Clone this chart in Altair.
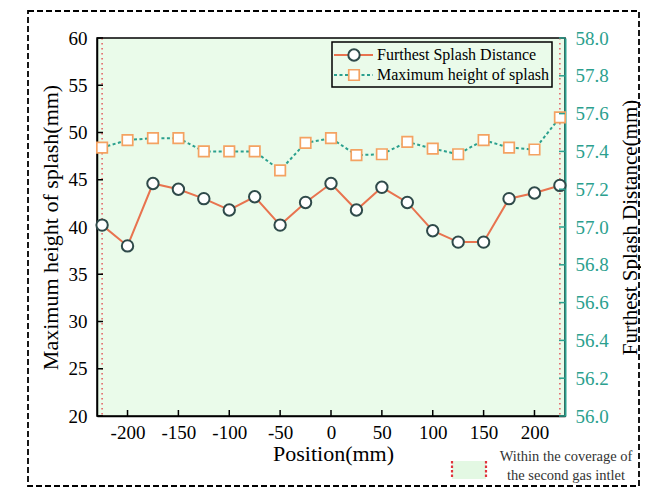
import altair as alt
import pandas as pd

# ---------------- data ----------------
positions = [-225, -200, -175, -150, -125, -100, -75, -50, -25, 0, 25, 50, 75,
             100, 125, 150, 175, 200, 225]
max_height = [48.4, 49.2, 49.4, 49.4, 48.0, 48.0, 48.0, 46.0, 48.9, 49.4, 47.6,
              47.7, 49.0, 48.3, 47.7, 49.2, 48.4, 48.2, 51.6]
furthest = [57.01, 56.90, 57.23, 57.20, 57.15, 57.09, 57.16, 57.01, 57.13, 57.23,
            57.09, 57.21, 57.13, 56.98, 56.92, 56.92, 57.15, 57.18, 57.22]
x_ticks = [-200, -150, -100, -50, 0, 50, 100, 150, 200]
left_ticks = [20, 25, 30, 35, 40, 45, 50, 55, 60]
right_ticks = [56.0, 56.2, 56.4, 56.6, 56.8, 57.0, 57.2, 57.4, 57.6, 57.8, 58.0]
coverage_edges = [-225, 225]
legend_labels = ["Furthest Splash Distance", "Maximum height of splash"]
note_lines = ["Within the coverage of", "the second gas intlet"]

# ---------------- style ----------------
W, H = 468, 378
SERIF = "Liberation Serif"
CORAL = "#E8734F"
SLATE = "#2F4A4A"
TEAL = "#2BA08E"
SAND = "#F4A262"
GREEN = "#EAFBEA"
RED = "#E0343C"

df = pd.DataFrame({"pos": positions, "h": max_height, "d": furthest})
df_x = pd.DataFrame({"pos": x_ticks})
df_l = pd.DataFrame({"h": left_ticks})
df_r = pd.DataFrame({"d": right_ticks})
df_edge = pd.DataFrame({"pos": coverage_edges})
one = pd.DataFrame({"k": [0]})

xs = alt.Scale(domain=[-230, 230], nice=False, zero=False)
ls = alt.Scale(domain=[20, 60], nice=False, zero=False)
rs = alt.Scale(domain=[56, 58], nice=False, zero=False)

x_axis = alt.Axis(values=x_ticks, labelExpr="'' + datum.value", tickSize=0,
                  labelFont=SERIF, labelFontSize=19,
                  labelColor="black", labelPadding=7, labelFlush=False,
                  domainColor="black", domainWidth=1.5, grid=False,
                  title="Position(mm)", titleFont=SERIF, titleFontSize=22,
                  titleFontWeight="normal", titleColor="black", titleX=236,
                  titleY=37, titleBaseline="middle", titleAlign="center")
l_axis = alt.Axis(values=left_ticks, format="d", tickSize=0, labelFont=SERIF,
                  labelFontSize=19, labelColor="black", labelPadding=10,
                  labelFlush=False, domainColor="black", domainWidth=1.5, grid=False,
                  title="Maximum height of splash(mm)", titleFont=SERIF,
                  titleFontSize=22, titleFontWeight="normal", titleColor="black",
                  titleAngle=270, titleX=-47, titleY=H / 2, titleAlign="center",
                  titleBaseline="middle")
r_axis = alt.Axis(values=right_ticks, format=".1f", orient="right", tickSize=0,
                  labelFont=SERIF, labelFontSize=19, labelColor=TEAL,
                  labelPadding=10, labelFlush=False, domainColor=TEAL,
                  domainWidth=2, grid=False,
                  title="Furthest Splash Distance(mm)", titleFont=SERIF,
                  titleFontSize=21, titleFontWeight="normal", titleColor="black",
                  titleAngle=270, titleX=65, titleY=H / 2, titleAlign="center",
                  titleBaseline="middle")

X = alt.X("pos:Q", scale=xs, axis=x_axis)
YL = alt.Y("h:Q", scale=ls, axis=l_axis)
YR = alt.Y("d:Q", scale=rs, axis=r_axis)

# ------------- left (max height) group -------------
edges = alt.Chart(df_edge).mark_rule(color=RED, strokeWidth=1.2, strokeDash=[1.5, 3.5]).encode(
    x=X)
h_line = alt.Chart(df).mark_line(color=TEAL, strokeWidth=2, strokeDash=[3, 2.5]).encode(
    x=X, y=YL)
h_pts = alt.Chart(df).mark_point(shape="square", size=110, filled=True, fill="white",
                                 stroke=SAND, strokeWidth=1.7, opacity=1).encode(
    x=X, y=YL)
x_tk = alt.Chart(df_x).mark_rule(color="black", strokeWidth=1.5).encode(
    x=X, y=alt.value(H), y2=alt.value(H - 6))
l_tk = alt.Chart(df_l).mark_rule(color="black", strokeWidth=1.5).encode(
    y=YL, x=alt.value(0), x2=alt.value(6))

# decorations: legend, note, outer frame
leg_box = alt.Chart(one).mark_rect(fillOpacity=0, stroke="black", strokeWidth=1.5).encode(
    x=alt.value(235), x2=alt.value(455), y=alt.value(4), y2=alt.value(49))
leg_l1 = alt.Chart(one).mark_rule(color=CORAL, strokeWidth=2).encode(
    x=alt.value(237), x2=alt.value(276), y=alt.value(17))
leg_p1 = alt.Chart(one).mark_point(shape="circle", size=130, filled=True, fill="white",
                                   stroke=SLATE, strokeWidth=2, opacity=1).encode(
    x=alt.value(257), y=alt.value(17))
leg_t1 = alt.Chart(one).mark_text(font=SERIF, fontSize=16, align="left",
                                  baseline="middle", color="black").encode(
    x=alt.value(280), y=alt.value(17), text=alt.value(legend_labels[0]))
leg_l2 = alt.Chart(one).mark_rule(color=TEAL, strokeWidth=2, strokeDash=[3, 2.5]).encode(
    x=alt.value(237), x2=alt.value(276), y=alt.value(37))
leg_p2 = alt.Chart(one).mark_point(shape="square", size=110, filled=True, fill="white",
                                   stroke=SAND, strokeWidth=1.7, opacity=1).encode(
    x=alt.value(257), y=alt.value(37))
leg_t2 = alt.Chart(one).mark_text(font=SERIF, fontSize=16, align="left",
                                  baseline="middle", color="black").encode(
    x=alt.value(280), y=alt.value(37), text=alt.value(legend_labels[1]))

note_fill = alt.Chart(one).mark_rect(fill="#E3F8E3").encode(
    x=alt.value(355), x2=alt.value(389), y=alt.value(423), y2=alt.value(441))
note_r1 = alt.Chart(one).mark_rule(color=RED, strokeWidth=2.2, strokeDash=[2.5, 2]).encode(
    x=alt.value(355), y=alt.value(423), y2=alt.value(441))
note_r2 = alt.Chart(one).mark_rule(color=RED, strokeWidth=2.2, strokeDash=[2.5, 2]).encode(
    x=alt.value(389), y=alt.value(423), y2=alt.value(441))
note_t1 = alt.Chart(one).mark_text(font=SERIF, fontSize=14.5, align="center",
                                   baseline="middle", color="#333333").encode(
    x=alt.value(469), y=alt.value(419), text=alt.value(note_lines[0]))
note_t2 = alt.Chart(one).mark_text(font=SERIF, fontSize=14.5, align="center",
                                   baseline="middle", color="#333333").encode(
    x=alt.value(469), y=alt.value(438), text=alt.value(note_lines[1]))
frame = alt.Chart(one).mark_rect(fillOpacity=0, stroke="black", strokeWidth=1.8,
                                 strokeDash=[6, 3]).encode(
    x=alt.value(-69), x2=alt.value(542), y=alt.value(-27), y2=alt.value(448))

left = alt.layer(edges, h_line, h_pts, x_tk, l_tk, leg_box, leg_l1, leg_p1, leg_t1,
                 leg_l2, leg_p2, leg_t2, note_fill, note_r1, note_r2, note_t1,
                 note_t2, frame)

# ------------- right (furthest distance) group -------------
d_line = alt.Chart(df).mark_line(color=CORAL, strokeWidth=2).encode(x=X, y=YR)
d_pts = alt.Chart(df).mark_point(shape="circle", size=130, filled=True, fill="white",
                                 stroke=SLATE, strokeWidth=2, opacity=1).encode(
    x=X, y=YR)
r_tk = alt.Chart(df_r).mark_rule(color=TEAL, strokeWidth=1.5).encode(
    y=YR, x=alt.value(W - 6), x2=alt.value(W))

right = alt.layer(d_line, d_pts, r_tk)

chart = alt.layer(left, right).resolve_scale(y="independent").properties(
    width=W, height=H,
    padding={"left": 89, "top": 30, "right": 76, "bottom": 72},
    autosize=alt.AutoSizeParams(type="none"),
    background="white",
).configure_view(fill=GREEN, stroke="black", strokeWidth=1.5)

chart.save("out.html", embed_options={"renderer": "svg", "actions": False})
